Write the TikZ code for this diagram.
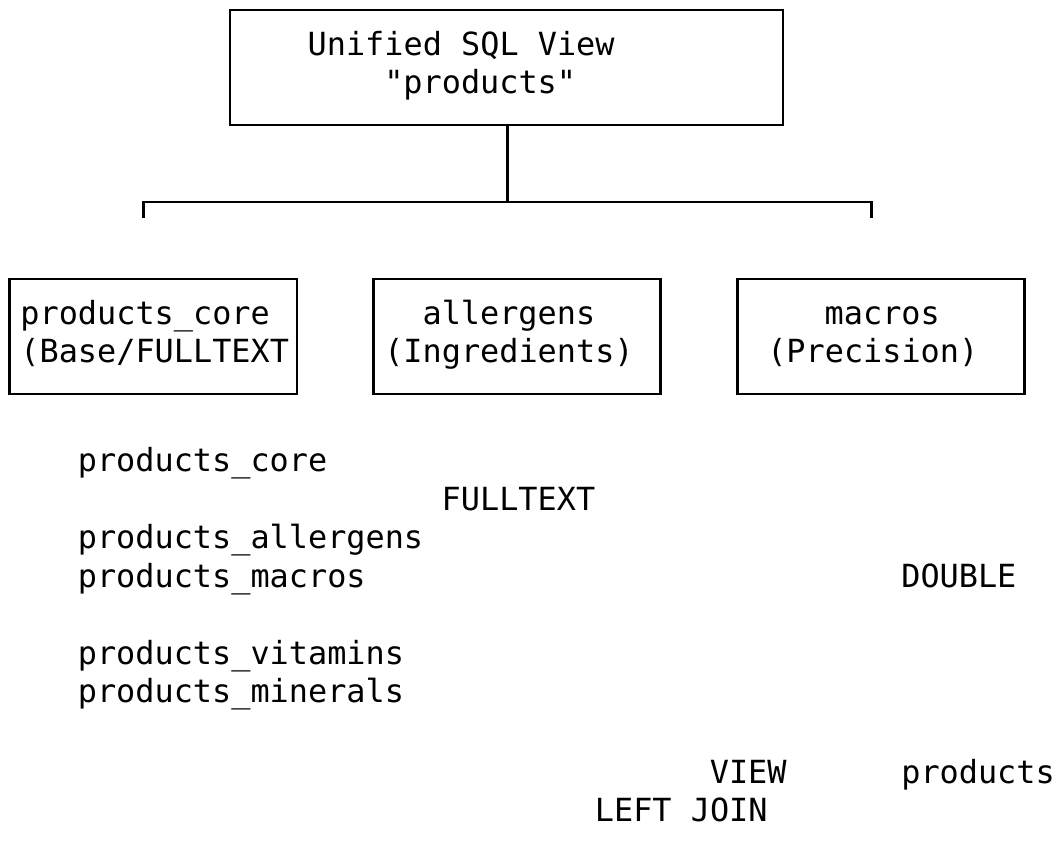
\documentclass[tikz,border=0pt]{standalone}
\usepackage{fontspec}
\newfontfamily\codefont{DejaVu Sans Mono}

\begin{document}
\begin{tikzpicture}[x=0.75pt,y=-0.75pt,line width=1.9pt,
  txt/.style={font=\codefont\fontsize{23.9pt}{28pt}\selectfont,anchor=base west,inner sep=0pt},
  tbl/.style={draw,inner sep=0pt,minimum width=215.4pt,minimum height=86.25pt}]

\def\cw {19.15} % one character
\def\top {55} \def\low {324} % first text line in the boxes
\def\rh {38.5}
\useasboundingbox (0,0) rectangle (1058,854);

% the view and the three tables
\node[tbl,minimum width=414.75pt] (view) at (506.5,67.5) {};
\node[tbl] (core) at (8*\cw,336.5) {};
\node[tbl] (allergens) at (27*\cw,336.5) {};
\node[tbl] (macros) at (46*\cw,336.5) {};

\node[txt] (viewname) at (16*\cw,\top) {Unified SQL View};
\node[txt] (viewid) at (20*\cw,\top+\rh) {"products"};
\node[txt] (corename) at (1*\cw,\low) {products\_core};
\node[txt] (corenote) at (1*\cw,\low+\rh) {(Base/FULLTEXT};
\node[txt] (allname) at (22*\cw,\low) {allergens};
\node[txt] (allnote) at (20*\cw,\low+\rh) {(Ingredients)};
\node[txt] (macname) at (43*\cw,\low) {macros};
\node[txt] (macnote) at (40*\cw,\low+\rh) {(Precision)};

% tree below the view
\coordinate (busL) at (7.5*\cw,202);
\coordinate (busC) at (26.5*\cw,202);
\coordinate (busR) at (45.5*\cw,202);
\coordinate (stubL) at (7.5*\cw,218);
\coordinate (stubR) at (45.5*\cw,218);
\draw (view.south -| busC) -- (busC);
\draw (stubL) -- (busL) -- (busR) -- (stubR);

% loose lines
\node[txt] (tcore) at (4*\cw,471.5) {products\_core};
\node[txt] (tfull) at (23*\cw,471.5+\rh) {FULLTEXT};
\node[txt] (tall) at (4*\cw,471.5+2*\rh) {products\_allergens};
\node[txt] (tmac) at (4*\cw,471.5+3*\rh) {products\_macros};
\node[txt] (tdouble) at (47*\cw,471.5+3*\rh) {DOUBLE};
\node[txt] (tvit) at (4*\cw,471.5+5*\rh) {products\_vitamins};
\node[txt] (tmin) at (4*\cw,471.5+6*\rh) {products\_minerals};
\node[txt] (tview) at (37*\cw,783) {VIEW};
\node[txt] (tprod) at (47*\cw,783) {products};
\node[txt] (tjoin) at (31*\cw,783+\rh) {LEFT JOIN};
\end{tikzpicture}
\end{document}
